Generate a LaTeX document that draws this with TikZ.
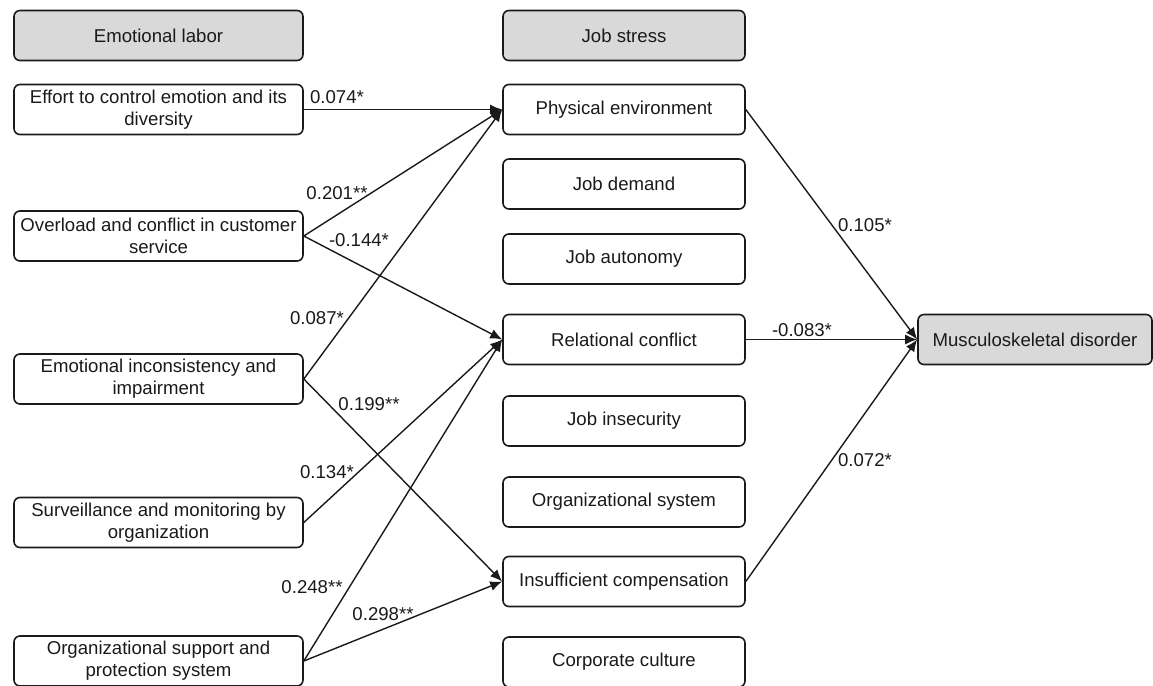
\documentclass[tikz,border=0pt]{standalone}
\usepackage{fontspec}
\setmainfont{Liberation Sans}
\usetikzlibrary{arrows.meta}
\definecolor{hdrgray}{HTML}{D9D9D9}
\definecolor{ink}{HTML}{1A1A1A}
\begin{document}
\begin{tikzpicture}[x=0.5pt,y=-0.5pt,
  box/.style={draw=ink, line width=0.8pt, rounded corners=3pt, minimum height=25pt,
    inner sep=0pt, align=center, text=ink, font=\fontsize{9.3}{11}\selectfont},
  lbox/.style={box, minimum width=144.5pt},
  mbox/.style={box, minimum width=121pt},
  hdr/.style={fill=hdrgray},
  arr/.style={draw=ink, -{Latex[length=6pt,width=5pt]}, line width=0.7pt},
  lab/.style={font=\fontsize{9.3}{11}\selectfont, inner sep=0pt, text=ink}]
\useasboundingbox (0,0) rectangle (1153,686);

% left column
\node[lbox,hdr] (el) at (158.5,35.5) {Emotional labor};
\node[lbox] (l1) at (158.5,109.5) {Effort to control emotion and its\\diversity};
\node[lbox] (l2) at (158.5,236) {Overload and conflict in customer\\service};
\node[lbox] (l3) at (158.5,379) {Emotional inconsistency and\\impairment};
\node[lbox] (l4) at (158.5,522.5) {Surveillance and monitoring by\\organization};
\node[lbox] (l5) at (158.5,661) {Organizational support and\\protection system};

% middle column
\node[mbox,hdr] (js) at (624,35.5) {Job stress};
\node[mbox] (m1) at (624,109.5) {Physical environment};
\node[mbox] (m2) at (624,184) {Job demand};
\node[mbox] (m3) at (624,259) {Job autonomy};
\node[mbox] (m4) at (624,339.5) {Relational conflict};
\node[mbox] (m5) at (624,421) {Job insecurity};
\node[mbox] (m6) at (624,502) {Organizational system};
\node[mbox] (m7) at (624,581.5) {Insufficient compensation};
\node[mbox] (m8) at (624,662) {Corporate culture};

% outcome
\node[box,hdr,minimum width=117pt] (msd) at (1035,339.5) {Musculoskeletal disorder};

% connectors
\draw[arr] (l1.east) -- (m1.west);
\draw[arr] (l2.east) -- (m1.west);
\draw[arr] (l2.east) -- (m4.west);
\draw[arr] (l3.east) -- (m1.west);
\draw[arr] (l3.east) -- (m7.west);
\draw[arr] (l4.east) -- (m4.west);
\draw[arr] (l5.east) -- (m4.west);
\draw[arr] (l5.east) -- (m7.west);
\draw[arr] (m1.east) -- (msd.west);
\draw[arr] (m4.east) -- (msd.west);
\draw[arr] (m7.east) -- (msd.west);

% coefficients
\node[lab] (c1) at (337,97) {0.074*};
\node[lab] (c2) at (337,193) {0.201**};
\node[lab] (c3) at (359,240) {-0.144*};
\node[lab] (c4) at (317,318) {0.087*};
\node[lab] (c5) at (369,404) {0.199**};
\node[lab] (c6) at (327,472) {0.134*};
\node[lab] (c7) at (312,587) {0.248**};
\node[lab] (c8) at (383,614) {0.298**};
\node[lab] (c9) at (865,225) {0.105*};
\node[lab] (c10) at (802,330) {-0.083*};
\node[lab] (c11) at (865,460) {0.072*};
\end{tikzpicture}
\end{document}
